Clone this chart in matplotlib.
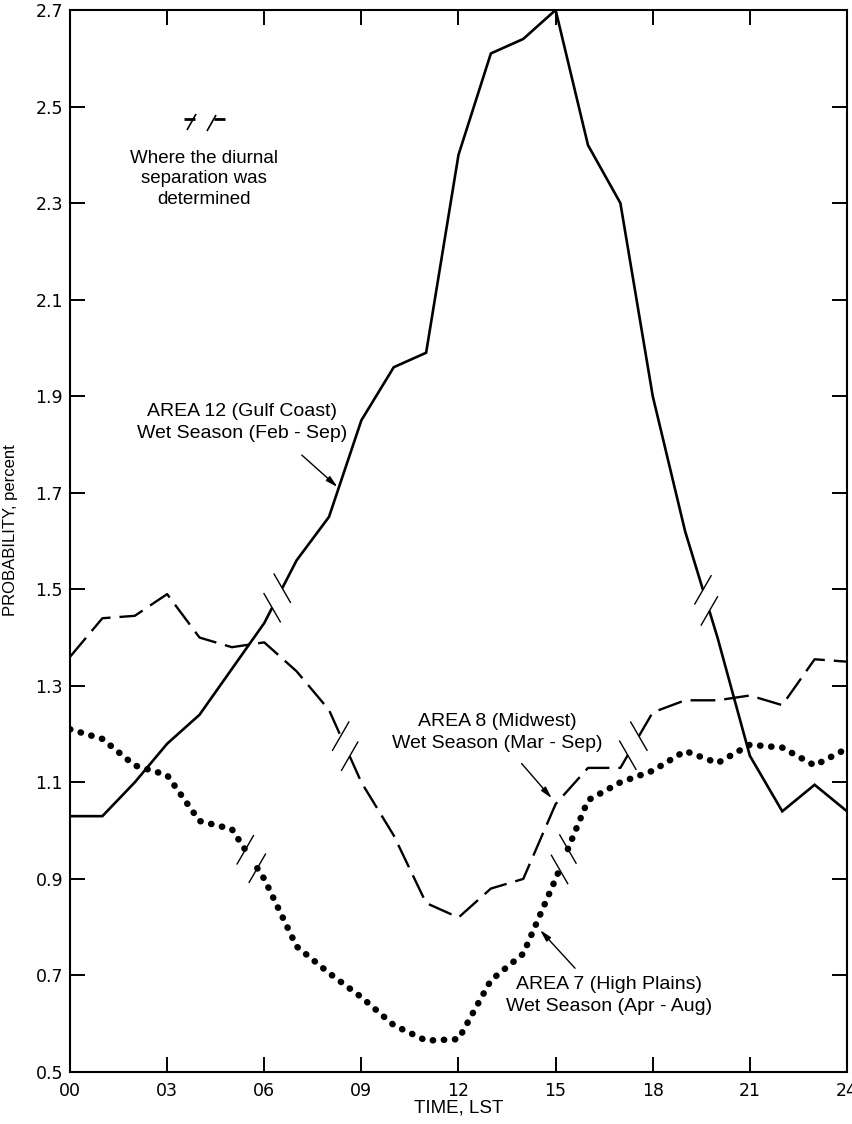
import numpy as np
import matplotlib
matplotlib.use('Agg')
import matplotlib.pyplot as plt

plt.rcParams['font.family'] = ['Liberation Sans', 'DejaVu Sans']

# ---------------- data ----------------
hours = list(range(25))
area12 = [1.03, 1.03, 1.10, 1.18, 1.24, 1.335, 1.43, 1.56, 1.65, 1.85, 1.96, 1.99,
          2.40, 2.61, 2.64, 2.70, 2.42, 2.30, 1.90, 1.62, 1.40, 1.155, 1.04, 1.095, 1.04]
area8 = [1.36, 1.44, 1.445, 1.49, 1.40, 1.38, 1.39, 1.33, 1.25, 1.10, 0.99, 0.85,
         0.82, 0.88, 0.90, 1.055, 1.13, 1.13, 1.245, 1.27, 1.27, 1.28, 1.26, 1.355, 1.35]
area7 = [1.21, 1.19, 1.135, 1.115, 1.02, 1.003, 0.90, 0.76, 0.705, 0.655, 0.597, 0.565,
         0.568, 0.69, 0.745, 0.90, 1.063, 1.10, 1.124, 1.165, 1.14, 1.178, 1.172, 1.135, 1.17]
# hours where the diurnal separation was determined
breaks12 = [6.4, 19.65]
breaks8 = [8.5, 17.4]
breaks7 = [5.6, 15.25]

xtick_values = list(range(0, 25, 3))
xtick_labels = ['00', '03', '06', '09', '12', '15', '18', '21', '24']
ytick_values = [0.5, 0.7, 0.9, 1.1, 1.3, 1.5, 1.7, 1.9, 2.1, 2.3, 2.5, 2.7]
ytick_labels = ['0.5', '0.7', '0.9', '1.1', '1.3', '1.5', '1.7', '1.9', '2.1', '2.3', '2.5', '2.7']

label12 = 'AREA 12 (Gulf Coast)\nWet Season (Feb - Sep)'
label8 = 'AREA 8 (Midwest)\nWet Season (Mar - Sep)'
label7 = 'AREA 7 (High Plains)\nWet Season (Apr - Aug)'
note = 'Where the diurnal\nseparation was\ndetermined'

# ---------------- figure ----------------
W, H = 853, 1124
X0, X1, Y0, Y1 = 70, 847, 10, 1072   # axes box in pixels (from top-left)
fig = plt.figure(figsize=(W / 100, H / 100), dpi=100)
ax = fig.add_axes([X0 / W, 1 - Y1 / H, (X1 - X0) / W, (Y1 - Y0) / H])
ax.set_xlim(0, 24)
ax.set_ylim(0.5, 2.7)

for s in ax.spines.values():
    s.set_linewidth(1.5)

ax.set_xticks(xtick_values)
ax.set_xticklabels(xtick_labels)
ax.set_yticks(ytick_values)
ax.set_yticklabels(ytick_labels)
ax.tick_params(direction='in', length=11, width=1.4, top=True, right=True,
               labelsize=12.5, colors='black')
ax.tick_params(axis='x', pad=7)
ax.tick_params(axis='y', pad=5)
for lab in ax.get_xticklabels() + ax.get_yticklabels():
    lab.set_family(['DejaVu Sans'])

ax.set_xlabel('TIME, LST', fontsize=13.5)
ax.set_ylabel('PROBABILITY, percent', fontsize=12)
ax.xaxis.set_label_coords(0.5, -0.026)
ax.yaxis.set_label_coords(-(X0 - 18) / (X1 - X0), 0.51)

HALF_GAP = 11.0   # px
MARK_LEN = 34.0   # px


def draw_series(x, y, breaks, **style):
    x = np.asarray(x, float)
    y = np.asarray(y, float)
    T = ax.transData
    cuts = []
    for hb in breaks:
        p0 = T.transform((hb, np.interp(hb, x, y)))
        p1 = T.transform((hb + 0.01, np.interp(hb + 0.01, x, y)))
        speed = np.hypot(*(p1 - p0)) / 0.01
        dh = HALF_GAP / speed
        cuts.append((hb - dh, hb + dh))
    bounds = [x[0]] + [c for pair in cuts for c in pair] + [x[-1]]
    for a, b in zip(bounds[0::2], bounds[1::2]):
        inner = x[(x > a) & (x < b)]
        xs = np.concatenate([[a], inner, [b]])
        ys = np.interp(xs, x, y)
        ax.plot(xs, ys, **style)
    for a, b in cuts:
        for h in (a, b):
            p = T.transform((h, np.interp(h, x, y)))
            q = T.transform((h + 0.01, np.interp(h + 0.01, x, y)))
            rising = q[1] > p[1]
            ang = np.deg2rad(-60 if rising else 60)
            d = np.array([np.cos(ang), np.sin(ang)]) * MARK_LEN / 2
            ends = T.inverted().transform(np.array([p - d, p + d]))
            ax.plot(ends[:, 0], ends[:, 1], color='black', lw=1.0,
                    solid_capstyle='butt', clip_on=False)


draw_series(hours, area12, breaks12, color='black', lw=1.9,
            solid_capstyle='butt', solid_joinstyle='miter')
draw_series(hours, area8, breaks8, color='black', lw=1.7,
            linestyle=(0, (10.5, 3.8)), dash_capstyle='butt')
draw_series(hours, area7, breaks7, color='black', lw=4.7,
            linestyle=(0, (0.05, 1.65)), dash_capstyle='round')

# ---------------- annotations ----------------
ap = dict(arrowstyle='-|>,head_length=0.7,head_width=0.18', color='black',
          lw=1.0, shrinkA=0, shrinkB=0)
ax.text(5.31, 1.846, label12, ha='center', va='center', fontsize=14,
        linespacing=1.4, multialignment='center')
ax.annotate('', xy=(8.26, 1.712), xytext=(7.16, 1.778), arrowprops=ap)

ax.text(13.19, 1.204, label8, ha='center', va='center', fontsize=14,
        linespacing=1.4, multialignment='center')
ax.annotate('', xy=(14.88, 1.067), xytext=(13.95, 1.139), arrowprops=ap)

ax.text(16.65, 0.659, label7, ha='center', va='center', fontsize=14,
        linespacing=1.4, multialignment='center')
ax.annotate('', xy=(14.52, 0.794), xytext=(15.6, 0.715), arrowprops=ap)

ax.text(4.14, 2.35, note, ha='center', va='center', fontsize=13.5,
        linespacing=1.3, multialignment='center')


# break-symbol key
def px(xp, yp):
    # figure pixel (from top-left) -> data coords
    return ((xp - X0) / ((X1 - X0) / 24), 2.7 - (yp - Y0) / ((Y1 - Y0) / 2.2))


key_segments = [((184, 118.5), (195, 118.5), 2.0),
                ((187, 130), (196, 114), 1.2),
                ((207, 131), (216, 115), 1.2),
                ((214, 119), (225, 119), 2.0)]
for (x0, y0), (x1, y1), w in key_segments:
    a = px(x0, y0)
    b = px(x1, y1)
    ax.plot([a[0], b[0]], [a[1], b[1]], color='black', lw=w,
            solid_capstyle='butt')

fig.savefig('out.png', dpi=100, facecolor='white')
